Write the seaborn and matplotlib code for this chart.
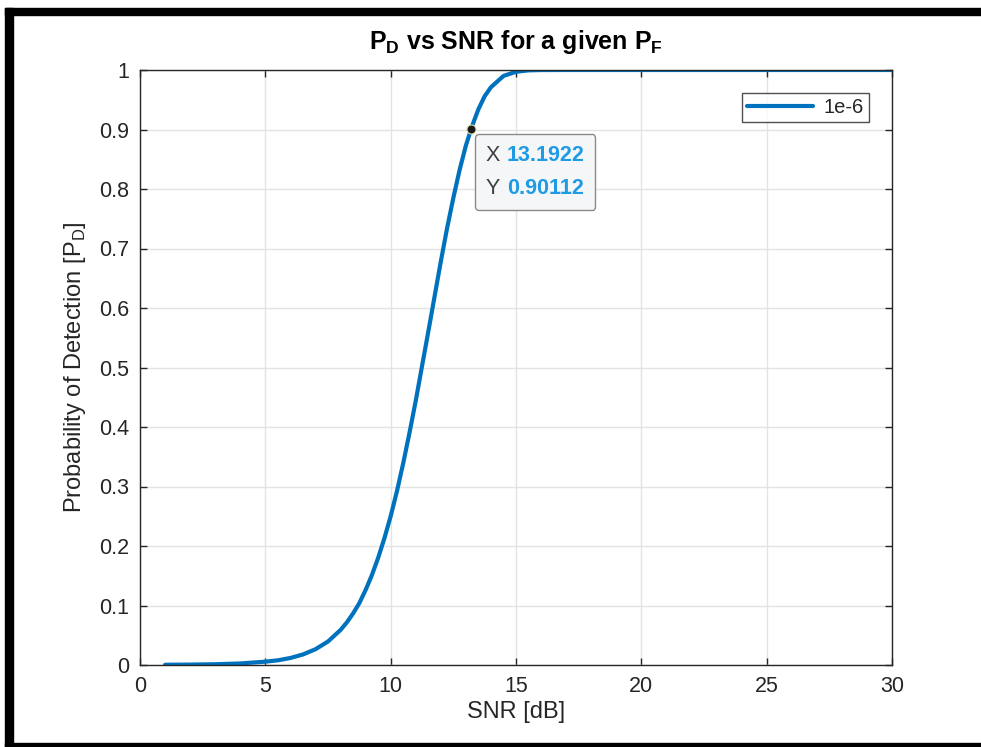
import numpy as np
import pandas as pd
import seaborn as sns
import matplotlib
from matplotlib import pyplot as plt
from matplotlib.patches import Rectangle
from matplotlib.offsetbox import TextArea, HPacker, VPacker, AnnotationBbox

# Values (Pfa = 1e-6)
snr_db = [1, 2, 3, 4, 5, 5.5, 6, 6.5, 7, 7.5, 8, 8.25, 8.5, 8.75, 9, 9.25, 9.5, 9.75,
          10, 10.25, 10.5, 10.75, 11, 11.25, 11.5, 11.75, 12, 12.25, 12.5, 12.75,
          13, 13.25, 13.5, 13.75, 14, 14.5, 15, 15.5, 16, 17, 18, 20, 22, 24, 26, 28, 30]
pd_vals = [0.0004, 0.0007, 0.0013, 0.0026, 0.0056, 0.0079, 0.0118, 0.0177, 0.0265, 0.0395,
           0.0589, 0.0715, 0.0866, 0.104, 0.126, 0.151, 0.180, 0.213,
           0.250, 0.292, 0.339, 0.390, 0.444, 0.502, 0.560, 0.619, 0.678, 0.734, 0.785, 0.832,
           0.873, 0.906, 0.934, 0.956, 0.971, 0.990, 0.997, 0.9994, 0.9999, 1.0, 1.0, 1.0,
           1.0, 1.0, 1.0, 1.0, 1.0]
series_name = '1e-6'
tip_x, tip_y = 13.1922, 0.90112
x_ticks = [0, 5, 10, 15, 20, 25, 30]
y_ticks = [0, 0.1, 0.2, 0.3, 0.4, 0.5, 0.6, 0.7, 0.8, 0.9, 1]
y_ticklabels = ['0', '0.1', '0.2', '0.3', '0.4', '0.5', '0.6', '0.7', '0.8', '0.9', '1']

df = pd.DataFrame({'SNR': snr_db, 'Pd': pd_vals, 'Pfa': series_name})

sns.set_style('ticks')
plt.rcParams['font.family'] = ['Liberation Sans', 'DejaVu Sans']
plt.rcParams['mathtext.fontset'] = 'custom'
plt.rcParams['mathtext.rm'] = 'Liberation Sans'
plt.rcParams['mathtext.bf'] = 'Liberation Sans:bold'
txt_col = '#262626'
blue = '#0072BD'

fig = plt.figure(figsize=(9.81, 7.47), dpi=100)
ax = fig.add_axes([140/981, 82/747, 752/981, 595/747])

sns.lineplot(data=df, x='SNR', y='Pd', hue='Pfa', palette=[blue], linewidth=3.0, ax=ax)
ax.plot([tip_x], [tip_y], 'o', ms=6.5, mfc='#1a1a1a', mec='#e8d9a0', mew=0.8, zorder=5)

ax.set_xlim(0, 30)
ax.set_ylim(0, 1)
ax.set_xticks(x_ticks)
ax.set_yticks(y_ticks, y_ticklabels)
ax.grid(True, color='#e3e3e3', linewidth=1)
ax.set_axisbelow(True)
for s in ax.spines.values():
    s.set_visible(True)
    s.set_color(txt_col)
    s.set_linewidth(1)
ax.tick_params(direction='in', length=5, width=1, color=txt_col, labelcolor=txt_col,
               labelsize=15.5, top=True, right=True, pad=8)

ax.set_xlabel('SNR [dB]', fontsize=17, color=txt_col, labelpad=3)
ax.set_ylabel(r'Probability of Detection [P$_\mathrm{D}$]', fontsize=17, color=txt_col, labelpad=8)
ax.set_title(r'$\mathbf{P}_\mathbf{D}$ vs SNR for a given $\mathbf{P}_\mathbf{F}$',
             fontsize=18, fontweight='bold', color='black', pad=15)

leg = ax.legend(loc='upper right', fontsize=14.5, frameon=True, fancybox=False,
                handlelength=3.3, handletextpad=0.5, borderaxespad=1.15, borderpad=0.25)
leg.get_frame().set_edgecolor(txt_col)
leg.get_frame().set_linewidth(1)
for t in leg.get_texts():
    t.set_color(txt_col)

# data tip box
fs = 15.5
tip_box = VPacker(children=[
    HPacker(children=[TextArea('X', textprops=dict(color='#404040', fontsize=fs)),
                      TextArea(f'{tip_x:g}', textprops=dict(color='#1f9be6', fontsize=fs, fontweight='bold'))],
            sep=5, pad=0),
    HPacker(children=[TextArea('Y', textprops=dict(color='#404040', fontsize=fs)),
                      TextArea(f'{tip_y:g}', textprops=dict(color='#1f9be6', fontsize=fs, fontweight='bold'))],
            sep=5, pad=0)], sep=9, pad=0, align='left')
ab = AnnotationBbox(tip_box, (tip_x, tip_y), xybox=(15, -16), boxcoords='offset pixels',
                    box_alignment=(0, 1), frameon=True, pad=0.75,
                    bboxprops=dict(boxstyle='round,pad=0.75,rounding_size=0.25', fc='#f5f6f8',
                                   ec='#8a8a8a', lw=1))
ax.add_artist(ab)

# screenshot border
fig.add_artist(Rectangle((5/981, 1-15/747), 1, 7/747, transform=fig.transFigure, color='black'))
fig.add_artist(Rectangle((5/981, 0), 8/981, 1-8/747, transform=fig.transFigure, color='black'))
fig.add_artist(Rectangle((5/981, 0), 1, 4/747, transform=fig.transFigure, color='black'))

fig.savefig('out.png', dpi=100)
